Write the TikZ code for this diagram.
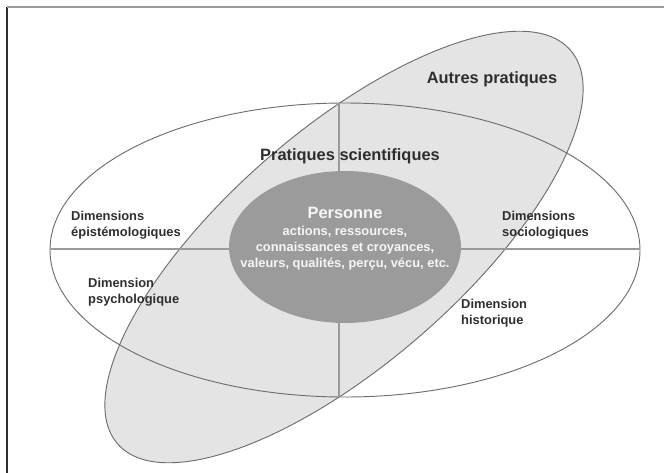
\documentclass[tikz,border=0pt]{standalone}
\usepackage{fontspec}
\setmainfont{Liberation Sans}
\usetikzlibrary{positioning}
\definecolor{inkdark}{HTML}{2e2e2e}
\definecolor{ringgray}{HTML}{6e6e6e}
\definecolor{axisgray}{HTML}{9a9a9a}
\definecolor{otherfill}{HTML}{e4e4e4}
\definecolor{personfill}{HTML}{9b9b9b}
\definecolor{persontext}{HTML}{f6f6f6}

\begin{document}
\begin{tikzpicture}[
    x=0.03cm, y=-0.03cm,
    every node/.style={font=\bfseries},
    titlelabel/.style={
        font=\bfseries\fontsize{14}{16}\selectfont,
        text=inkdark,
        inner sep=0pt,
    },
    dimlabel/.style={
        font=\bfseries\fontsize{11}{13.4}\selectfont,
        text=inkdark,
        align=left,
        anchor=west,
        inner sep=0pt,
    },
    ringline/.style={draw=ringgray, line width=0.8pt},
    axisline/.style={draw=axisgray, line width=1.3pt},
]
\useasboundingbox (0,0) rectangle (664,473);

% === Frame ===
\draw[line width=1pt, color=inkdark] (7,473) -- (7,7);
\draw[line width=1pt, color=axisgray] (7,7) -- (664,7);

% === Autres pratiques (tilted ellipse) ===
\fill[otherfill, rotate around={41:(344,247)}] (344,247) ellipse (300 and 117);

% === Pratiques scientifiques (wide ellipse) ===
\draw[ringline] (345,250) ellipse (295 and 147);
\draw[ringline, rotate around={41:(344,247)}] (344,247) ellipse (300 and 117);

% === Axes ===
\draw[axisline] (50,249) -- (640,249);
\draw[axisline] (339,103) -- (339,397);

% === Personne ===
\fill[personfill] (345,247) ellipse (116 and 76);
\node[
    align=center,
    text=persontext,
    inner sep=0pt,
    font=\bfseries\fontsize{11}{13.6}\selectfont,
] (personne) at (345,239) {
    {\fontsize{14}{16}\selectfont Personne}\\[1pt]
    actions, ressources,\\
    connaissances et croyances,\\
    valeurs, qualités, perçu, vécu, etc.
};

% === Labels ===
\node[titlelabel] (autres) at (492,79) {Autres pratiques};
\node[titlelabel] (scient) at (350,156) {Pratiques scientifiques};

\node[dimlabel] (episteme) at (71,225) {Dimensions\\épistémologiques};
\node[dimlabel] (psycho) at (88,292) {Dimension\\psychologique};
\node[dimlabel] (socio) at (502,225) {Dimensions\\sociologiques};
\node[dimlabel] (histo) at (461,313) {Dimension\\historique};

\end{tikzpicture}
\end{document}
